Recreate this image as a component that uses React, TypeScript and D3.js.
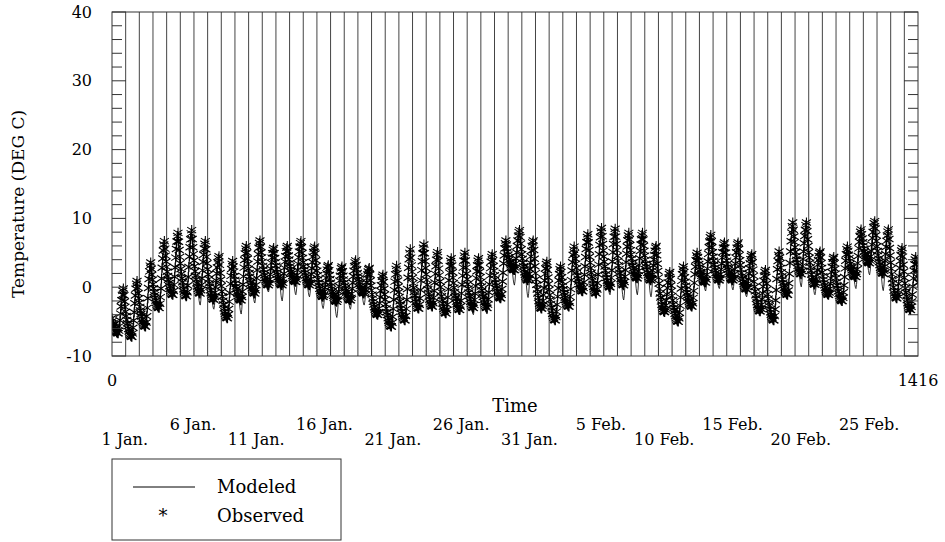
import React from 'react';
import * as d3 from 'd3';

// ---------- data ----------
const totalHours = 1416;
const yTickValues = [-10, 0, 10, 20, 30, 40];
const xEndLabels = ['0', '1416'];
const dateLabels = ['1 Jan.', '6 Jan.', '11 Jan.', '16 Jan.', '21 Jan.', '26 Jan.', '31 Jan.', '5 Feb.', '10 Feb.', '15 Feb.', '20 Feb.', '25 Feb.'];

// daily afternoon peak of observed temperature (deg C), one per day (59 days)
const obsDailyMax = [
  -0.2, 0.9, 3.6, 6.7, 7.9, 8.3, 6.7, 4.5, 3.8, 6.0,
  6.8, 5.7, 6.0, 6.7, 5.9, 3.2, 3.0, 3.9, 2.8, 1.8,
  3.1, 5.5, 6.2, 5.1, 4.2, 5.0, 4.2, 4.8, 6.8, 8.3,
  6.8, 3.7, 3.0, 5.9, 7.7, 8.6, 8.5, 7.9, 7.9, 6.0,
  2.2, 3.0, 5.0, 7.6, 6.5, 6.5, 4.8, 2.5, 5.2, 9.4,
  9.4, 5.2, 4.4, 5.9, 8.4, 9.6, 8.4, 5.7, 4.4,
];
// daily minimum of observed temperature
const obsDailyMin = [
  -6.7, -7.2, -5.7, -3.0, -1.1, -1.3, -0.9, -1.8, -4.5, -1.9,
  -0.9, 0.3, 0.3, 0.8, 0.3, -1.4, -2.1, -1.9, -0.9, -4.0,
  -5.7, -4.8, -3.1, -2.8, -3.8, -3.3, -3.0, -3.0, -1.6, 2.5,
  1.0, -3.1, -4.8, -2.8, -0.6, -0.9, 0.0, 0.3, 1.3, 1.0,
  -3.6, -5.0, -2.8, 0.7, 1.0, 1.0, -0.3, -3.5, -4.8, -1.1,
  1.9, 0.4, -1.1, -2.0, 1.5, 3.5, 2.0, -1.6, -3.3,
];
// daily minimum of modeled temperature
const modDailyMin = [
  -7.0, -7.5, -6.0, -3.3, -1.5, -1.9, -2.6, -3.2, -4.7, -3.9,
  -2.3, -0.7, -2.0, -1.1, -1.4, -3.1, -4.4, -3.2, -2.6, -4.5,
  -5.9, -5.0, -3.3, -3.0, -4.0, -4.0, -4.0, -3.9, -2.2, 0.3,
  -1.5, -3.3, -5.0, -3.0, -1.0, -1.2, -1.1, -1.85, -1.1, -1.4,
  -3.8, -5.2, -3.3, -0.55, -0.2, -0.4, -1.4, -3.7, -5.0, -1.5,
  0.05, -1.1, -1.5, -2.4, -0.2, 1.8, -0.5, -1.9, -3.6,
];
const initialTemp = -2.5;
// diurnal shapes (fractions)
const fallShape = [0, 0.14, 0.27, 0.38, 0.48, 0.57, 0.65, 0.72, 0.78, 0.84, 0.89, 0.93, 0.96, 0.985, 1, 1];
const riseShape = [0, 0.06, 0.16, 0.29, 0.44, 0.6, 0.74, 0.86, 0.95, 1];
const dipShape = [0.05, 0.18, 0.4, 0.68, 0.9, 1, 0.9, 0.68, 0.4, 0.18, 0.05];

const MIN_HOUR = 11;
const PEAK_HOUR = 20;

function baseAt(t: number): number {
  const nDays = obsDailyMax.length;
  let d = Math.floor(t / 24);
  if (d >= nDays) d = nDays - 1;
  const h = t - 24 * d;
  if (h >= MIN_HOUR && h <= PEAK_HOUR) {
    const f = riseShape[h - MIN_HOUR];
    return obsDailyMin[d] + (obsDailyMax[d] - obsDailyMin[d]) * f;
  }
  if (h > PEAK_HOUR) {
    const target = d + 1 < nDays ? obsDailyMin[d + 1] : obsDailyMin[d];
    const f = fallShape[h - PEAK_HOUR];
    return obsDailyMax[d] + (target - obsDailyMax[d]) * f;
  }
  const prevPeak = d > 0 ? obsDailyMax[d - 1] : initialTemp;
  const f = fallShape[h + 24 - PEAK_HOUR];
  return prevPeak + (obsDailyMin[d] - prevPeak) * f;
}

function modeledAt(t: number): number {
  const nDays = obsDailyMax.length;
  let d = Math.floor(t / 24);
  if (d >= nDays) d = nDays - 1;
  const h = t - 24 * d;
  const off = h - MIN_HOUR + 5;
  const dip = off >= 0 && off < dipShape.length ? dipShape[off] : 0;
  return baseAt(t) - (obsDailyMin[d] - modDailyMin[d]) * dip;
}

const hours = d3.range(0, totalHours + 1);
const observed = hours.map((t) => ({ t, v: baseAt(t) }));
const modeled = hours.map((t) => ({ t, v: modeledAt(t) }));

// ---------- layout ----------
const W = 945;
const H = 542;
const left = 112;
const right = 918;
const top = 12;
const bottom = 356;
const FONT = 'DejaVu Serif';

export default function App() {
  const x = d3.scaleLinear().domain([0, totalHours]).range([left, right]);
  const y = d3.scaleLinear().domain([-10, 40]).range([bottom, top]);

  const line = d3
    .line<{ t: number; v: number }>()
    .x((p) => x(p.t))
    .y((p) => y(p.v));

  let starPath = '';
  const sv = 5;
  const sx = 4.5;
  const sy = 3;
  for (const p of observed) {
    const cx = x(p.t);
    const cy = y(p.v);
    starPath += `M${cx.toFixed(2)},${(cy - sv).toFixed(2)}V${(cy + sv).toFixed(2)}`;
    starPath += `M${(cx - sx).toFixed(2)},${(cy - sy).toFixed(2)}L${(cx + sx).toFixed(2)},${(cy + sy).toFixed(2)}`;
    starPath += `M${(cx - sx).toFixed(2)},${(cy + sy).toFixed(2)}L${(cx + sx).toFixed(2)},${(cy - sy).toFixed(2)}`;
  }

  const dayLines = d3.range(24, totalHours, 24);
  const minorTicks = d3.range(-10, 40.001, 2).filter((v) => v % 10 !== 0);

  return (
    <svg
      width={W}
      height={H}
      style={{ position: 'absolute', left: 0, top: 0, background: '#fff' }}
      fontFamily={FONT}
    >
      <defs>
        <clipPath id="plotClip">
          <rect x={left} y={top} width={right - left} height={bottom - top} />
        </clipPath>
      </defs>
      <rect x={0} y={0} width={W} height={H} fill="#fff" />

      {/* day grid lines */}
      {dayLines.map((t) => (
        <line key={t} x1={x(t)} x2={x(t)} y1={top} y2={bottom} stroke="#444" strokeWidth={1} />
      ))}

      {/* series */}
      <g clipPath="url(#plotClip)">
        <path d={line(modeled) || ''} fill="none" stroke="#000" strokeWidth={0.8} />
        <path d={starPath} fill="none" stroke="#000" strokeWidth={1.1} />
      </g>

      {/* ticks */}
      {minorTicks.map((v) => (
        <g key={v}>
          <line x1={left} x2={left + 10} y1={y(v)} y2={y(v)} stroke="#333" />
          <line x1={right} x2={right - 10} y1={y(v)} y2={y(v)} stroke="#333" />
        </g>
      ))}
      {yTickValues.map((v) => (
        <g key={v}>
          <line x1={left} x2={left + 14} y1={y(v)} y2={y(v)} stroke="#333" />
          <line x1={right} x2={right - 14} y1={y(v)} y2={y(v)} stroke="#333" />
          <text x={left - 20} y={y(v)} textAnchor="end" dominantBaseline="central" fontSize={16}>
            {v < 0 ? '-' + Math.abs(v) : String(v)}
          </text>
        </g>
      ))}

      {/* frame */}
      <rect x={left} y={top} width={right - left} height={bottom - top} fill="none" stroke="#333" strokeWidth={1} />

      {/* x labels */}
      <text x={x(0)} y={386} textAnchor="middle" fontSize={16}>{xEndLabels[0]}</text>
      <text x={x(totalHours)} y={386} textAnchor="middle" fontSize={16}>{xEndLabels[1]}</text>
      <text x={(left + right) / 2} y={412} textAnchor="middle" fontSize={18}>Time</text>
      {dateLabels.map((lab, i) => (
        <text key={lab} x={x(i * 5 * 24) + 36} y={i % 2 === 0 ? 445 : 430} textAnchor="end" fontSize={16}>
          {lab}
        </text>
      ))}

      {/* y title */}
      <text
        transform={`translate(24, 204) rotate(-90)`}
        textAnchor="middle"
        fontSize={17}
      >
        Temperature (DEG C)
      </text>

      {/* legend */}
      <rect x={112} y={459} width={229} height={81} fill="none" stroke="#333" strokeWidth={1} />
      <line x1={133} x2={195} y1={487} y2={487} stroke="#000" strokeWidth={1} />
      <text x={217} y={493} fontSize={18}>Modeled</text>
      <text x={163} y={522} textAnchor="middle" fontSize={18}>*</text>
      <text x={217} y={522} fontSize={18}>Observed</text>
    </svg>
  );
}
